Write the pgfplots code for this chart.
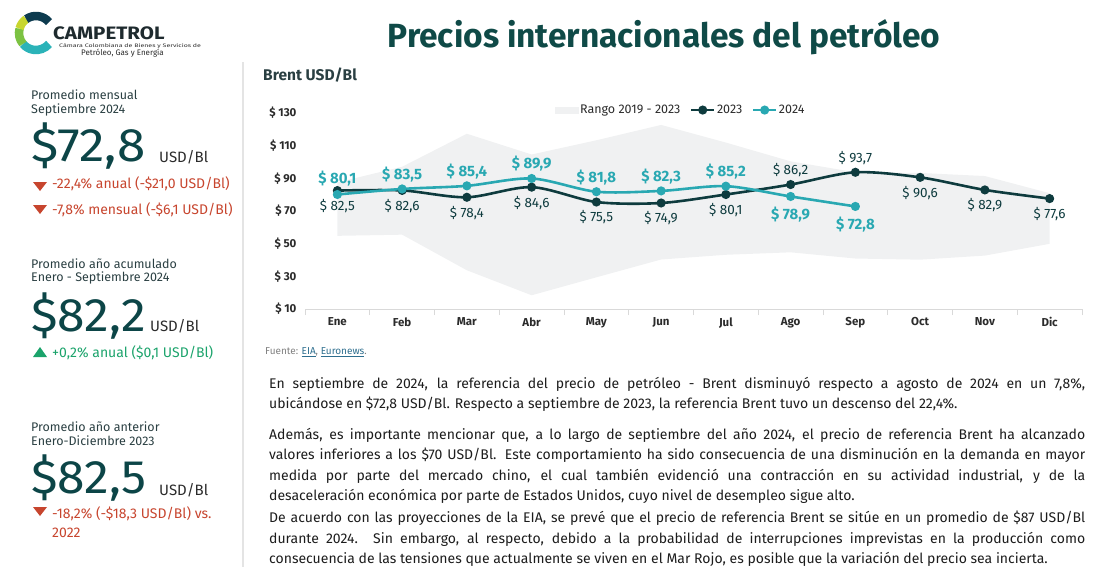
\documentclass[border=0pt]{standalone}
\usepackage{fontspec}
\setmainfont{Fira Sans}
\usepackage{pgfplots}
\usepackage{pgfplotstable}
\pgfplotsset{compat=1.18}
\definecolor{c23}{HTML}{0E3B3E}
\definecolor{c24}{HTML}{29A8B2}
\definecolor{band}{HTML}{F0F1F2}
\definecolor{ttl}{HTML}{0F4A47}
\definecolor{hdr}{HTML}{2A3F42}
\definecolor{big}{HTML}{0C4547}
\definecolor{redc}{HTML}{C7452E}
\definecolor{grnc}{HTML}{1BA36B}
\definecolor{bodyc}{HTML}{1C1C1C}
\definecolor{xgray}{HTML}{D9D9D9}
\definecolor{tickc}{HTML}{2B2B2B}
\definecolor{lnk}{HTML}{2E6E8E}
\newcommand\fs[1]{\fontsize{#1}{#1}\selectfont}
\newcommand\wide[2]{\scalebox{#1}[1]{#2}}
\pgfplotsset{lineleg/.style={legend image code/.code={\draw[##1, mark repeat=2, mark phase=2] plot coordinates {(0pt,0pt) (11.5pt,0pt) (23pt,0pt)};}}}

\pgfplotstableread{
x y
0 87.5
1 97.1
2 117.3
3 104.6
4 113.3
5 122.7
6 111.9
7 100.4
8 93.7
9 93.3
10 91.4
11 80.9
11 49.9
10 42.7
9 40.2
8 40.9
7 44.7
6 43.2
5 40.3
4 29.4
3 18.4
2 33.7
1 55.5
0 54.8
}\bandtbl

\pgfplotstableread{
x y off
0 82.5 -15.5
1 82.6 -15.7
2 78.4 -16
3 84.6 -16
4 75.5 -15.5
5 74.9 -15.5
6 80.1 -16
7 86.2 14.4
8 93.7 14
9 90.6 -16
10 82.9 -15
11 77.6 -15.5
}\tbltwo

\pgfplotstableread{
x y off
0 80.1 16
1 83.5 14.6
2 85.4 14.7
3 89.9 15
4 81.8 14.3
5 82.3 14.5
6 85.2 15
7 78.9 -17.7
8 72.8 -17.7
}\tblfour

\begin{document}
\begin{tikzpicture}
\path[use as bounding box] (0,0) rectangle (1114pt,-567pt);

\begin{axis}[
  at={(305pt,-309pt)}, anchor=south west, scale only axis,
  width=777pt, height=196pt,
  xmin=-0.5, xmax=11.5, ymin=10, ymax=130,
  clip=false,
  axis x line=bottom, axis y line=left,
  x axis line style={draw=xgray, line width=1pt, -},
  y axis line style={draw=none},
  xtick={0,...,11},
  xticklabels={Ene,Feb,Mar,Abr,May,Jun,Jul,Ago,Sep,Oct,Nov,Dic},
  minor xtick={-0.5,0.5,...,11.5},
  major tick length=0pt, minor tick length=6pt, tick align=outside,
  minor tick style={draw=xgray, line width=1pt},
  ytick={10,30,...,130},
  yticklabels={\$ 10,\$ 30,\$ 50,\$ 70,\$ 90,\$ 110,\$ 130},
  xticklabel style={font=\fs{11.5}\bfseries, text=tickc, yshift=-5pt},
  yticklabel style={font=\fs{11.5}\bfseries, text=tickc, xshift=-5pt},
  /pgf/number format/assume math mode=true,
  legend style={at={(0.483,1.015)}, anchor=center, draw=none, fill=none,
    font=\fs{12.5}, text=tickc, legend columns=3, inner sep=0pt,
    /tikz/every even column/.append style={column sep=8pt},
    nodes={inner sep=1.5pt}},
]
\addplot[fill=band, draw=none,
  legend image code/.code={\fill[band] (0pt,-3.5pt) rectangle (24pt,3.5pt);}]
  table[x=x,y=y] {\bandtbl};
\addlegendentry{Rango 2019 - 2023}

\addplot[c23, line width=2.6pt, smooth, mark=*, mark size=3.2pt,
  mark options={fill=c23, solid},
  visualization depends on={\thisrow{off} \as \myoff},
  nodes near coords={\$~\pgfmathprintnumber[fixed,fixed zerofill,precision=1,use comma,assume math mode=true]{\pgfplotspointmeta}},
  nodes near coords style={font=\fs{13.5}, text=c23, anchor=center, yshift=\myoff pt},
  lineleg]
  table[x=x,y=y] {\tbltwo};
\addlegendentry{2023}

\addplot[c24, line width=2.6pt, smooth, mark=*, mark size=3.2pt,
  mark options={fill=c24, solid},
  visualization depends on={\thisrow{off} \as \myoff},
  nodes near coords={\$~\pgfmathprintnumber[fixed,fixed zerofill,precision=1,use comma,assume math mode=true]{\pgfplotspointmeta}},
  nodes near coords style={font=\fs{15}\bfseries, text=c24, anchor=center, yshift=\myoff pt},
  lineleg]
  table[x=x,y=y] {\tblfour};
\addlegendentry{2024}
\end{axis}

\begin{scope}[x=1pt,y=-1pt]
% separator
\draw[draw=xgray!70, line width=2.5pt] (243,62) -- (243,567);
% logo
\draw[line width=8.5pt, color={rgb,255:red,43;green,179;blue,184}] (36,33) ++(40:17) arc[start angle=40, end angle=140, radius=17];
\draw[line width=8.5pt, color={rgb,255:red,124;green,194;blue,66}] (36,33) ++(140:17) arc[start angle=140, end angle=195, radius=17];
\draw[line width=8.5pt, color={rgb,255:red,200;green,214;blue,46}] (36,33) ++(195:17) arc[start angle=195, end angle=235, radius=17];
\draw[line width=8.5pt, color={rgb,255:red,13;green,59;blue,79}] (36,33) ++(235:17) arc[start angle=235, end angle=320, radius=17];
\node[anchor=base west, inner sep=0pt, font=\fs{18}\bfseries, text={rgb,255:red,30;green,42;blue,46}] at (53,39.5) {\wide{1.14}{CAMPETROL}};
\node[anchor=base west, inner sep=0pt, font=\fs{5}, text=tickc] at (59,47.5) {\wide{1.4}{Cámara Colombiana de Bienes y Servicios de}};
\node[anchor=base east, inner sep=0pt, font=\fs{8}, text=tickc] at (164,56) {Petróleo, Gas y Energía};

% title
\node[anchor=base, inner sep=0pt, font=\fs{33.5}\bfseries, text=ttl] at (664,47.5) {Precios internacionales del petróleo};
\node[anchor=base west, inner sep=0pt, font=\fs{15.5}\bfseries, text=hdr] at (263,81) {Brent USD/Bl};

% left panel
\node[anchor=base west, inner sep=0pt, font=\fs{12.5}, text=hdr] at (31,99.5) {Promedio mensual};
\node[anchor=base west, inner sep=0pt, font=\fs{12.5}, text=hdr] at (31,114) {Septiembre 2024};
\node[anchor=base west, inner sep=0pt, font=\fs{47}, text=big] at (31,161.5) {\wide{1.09}{\$72,8}};
\node[anchor=base west, inner sep=0pt, font=\fs{15}, text=tickc] at (159,163) {USD/Bl};
\fill[redc] (33,182) -- (47,182) -- (40,191) -- cycle;
\node[anchor=base west, inner sep=0pt, font=\fs{14}, text=redc] at (52,189) {-22,4\% anual (-\$21,0 USD/Bl)};
\fill[redc] (33,205) -- (47,205) -- (40,214) -- cycle;
\node[anchor=base west, inner sep=0pt, font=\fs{14}, text=redc] at (52,214) {-7,8\% mensual (-\$6,1 USD/Bl)};

\node[anchor=base west, inner sep=0pt, font=\fs{12.5}, text=hdr] at (31,268) {Promedio año acumulado};
\node[anchor=base west, inner sep=0pt, font=\fs{12.5}, text=hdr] at (31,281.5) {Enero - Septiembre 2024};
\node[anchor=base west, inner sep=0pt, font=\fs{47}, text=big] at (31,331.5) {\wide{1.06}{\$82,2}};
\node[anchor=base west, inner sep=0pt, font=\fs{15}, text=tickc] at (150,331.5) {USD/Bl};
\fill[grnc] (33,357) -- (47,357) -- (40,347) -- cycle;
\node[anchor=base west, inner sep=0pt, font=\fs{14}, text=grnc] at (52,357) {+0,2\% anual (\$0,1 USD/Bl)};

\node[anchor=base west, inner sep=0pt, font=\fs{12.5}, text=hdr] at (31,431) {Promedio año anterior};
\node[anchor=base west, inner sep=0pt, font=\fs{12.5}, text=hdr] at (31,445) {Enero-Diciembre 2023};
\node[anchor=base west, inner sep=0pt, font=\fs{47}, text=big] at (31,493) {\wide{1.06}{\$82,5}};
\node[anchor=base west, inner sep=0pt, font=\fs{15}, text=tickc] at (159,495) {USD/Bl};
\fill[redc] (33,507) -- (47,507) -- (40,516) -- cycle;
\node[anchor=base west, inner sep=0pt, font=\fs{14}, text=redc] at (52,518) {-18,2\% (-\$18,3 USD/Bl) vs.};
\node[anchor=base west, inner sep=0pt, font=\fs{14}, text=redc] at (52,537) {2022};

% source
\node[anchor=base west, inner sep=0pt, font=\fs{10}, text=gray] at (265,354.5) {Fuente: \textcolor{lnk}{\underline{EIA}}, \textcolor{lnk}{\underline{Euronews}}.};

% body text
\node[anchor=north west, inner sep=0pt, text width=816pt, align=justify, font=\fontsize{14}{20.4}\selectfont, text=bodyc] at (269,377)
{En septiembre de 2024, la referencia del precio de petróleo - Brent disminuyó respecto a agosto de 2024 en un 7,8\%,\linebreak
ubicándose en \$72,8 USD/Bl. Respecto a septiembre de 2023, la referencia Brent tuvo un descenso del 22,4\%.};
\node[anchor=north west, inner sep=0pt, text width=816pt, align=justify, font=\fontsize{14}{20.4}\selectfont, text=bodyc] at (269,428)
{Además, es importante mencionar que, a lo largo de septiembre del año 2024, el precio de referencia Brent ha alcanzado\linebreak
valores inferiores a los \$70 USD/Bl. Este comportamiento ha sido consecuencia de una disminución en la demanda en mayor\linebreak
medida por parte del mercado chino, el cual también evidenció una contracción en su actividad industrial, y de la\linebreak
desaceleración económica por parte de Estados Unidos, cuyo nivel de desempleo sigue alto.};
\node[anchor=north west, inner sep=0pt, text width=816pt, align=justify, font=\fontsize{14}{20.4}\selectfont, text=bodyc] at (269,511)
{De acuerdo con las proyecciones de la EIA, se prevé que el precio de referencia Brent se sitúe en un promedio de \$87 USD/Bl\linebreak
durante 2024. Sin embargo, al respecto, debido a la probabilidad de interrupciones imprevistas en la producción como\linebreak
consecuencia de las tensiones que actualmente se viven en el Mar Rojo, es posible que la variación del precio sea incierta.};
\end{scope}
\end{tikzpicture}
\end{document}
